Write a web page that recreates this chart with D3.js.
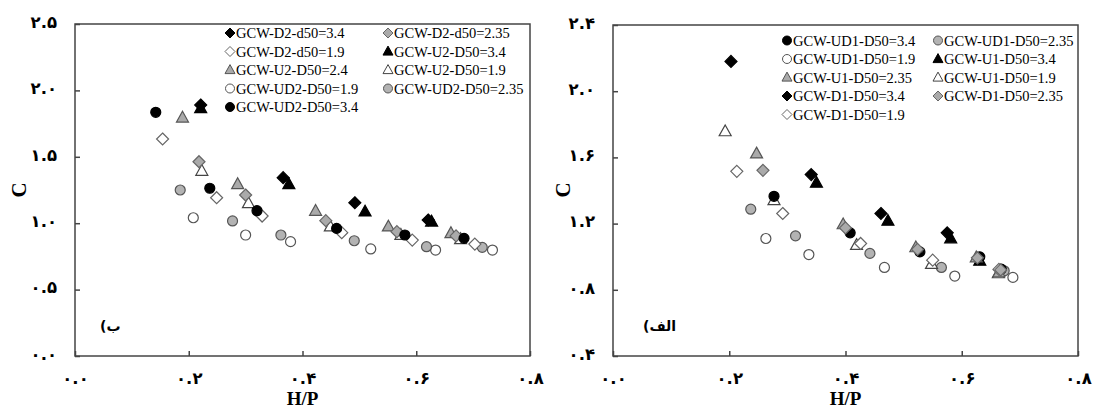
<!DOCTYPE html>
<html>
<head>
<meta charset="utf-8">
<script src="https://cdn.jsdelivr.net/npm/d3@7"></script>
<style>
  body { margin: 0; background: #fff; }
  .tick text { font-family: "DejaVu Sans", sans-serif; font-weight: bold; font-size: 16.5px; fill: #000; }
  .legend text { font-family: "Liberation Serif", "Times New Roman", serif; font-size: 14.5px; fill: #000; }
  .title { font-family: "Liberation Serif", "Times New Roman", serif; font-weight: bold; fill: #000; }
</style>
</head>
<body>
<div id="container-1"></div>
<script>
// ---- data, panel (b) left ----
const bNames = ["GCW-D2-d50=3.4", "GCW-D2-d50=2.35", "GCW-D2-d50=1.9", "GCW-U2-D50=3.4", "GCW-U2-D50=2.4",
  "GCW-U2-D50=1.9", "GCW-UD2-D50=1.9", "GCW-UD2-D50=2.35", "GCW-UD2-D50=3.4"];
const b_D2_34 = [[0.221, 1.89], [0.366, 1.343], [0.492, 1.154], [0.621, 1.024]];
const b_D2_235 = [[0.218, 1.463], [0.300, 1.212], [0.441, 1.019], [0.566, 0.936], [0.670, 0.904]];
const b_D2_19 = [[0.154, 1.634], [0.249, 1.192], [0.329, 1.054], [0.469, 0.929], [0.593, 0.873], [0.703, 0.843]];
const b_U2_34 = [[0.221, 1.865], [0.376, 1.293], [0.510, 1.087], [0.627, 1.011]];
const b_U2_24 = [[0.189, 1.794], [0.286, 1.293], [0.423, 1.092], [0.551, 0.974], [0.661, 0.924]];
const b_U2_19 = [[0.223, 1.393], [0.305, 1.150], [0.449, 0.974], [0.573, 0.911], [0.678, 0.879]];
const b_UD2_19 = [[0.208, 1.041], [0.300, 0.911], [0.379, 0.861], [0.520, 0.806], [0.634, 0.798], [0.734, 0.798]];
const b_UD2_235 = [[0.185, 1.250], [0.277, 1.017], [0.362, 0.911], [0.491, 0.868], [0.618, 0.823], [0.716, 0.818]];
const b_UD2_34 = [[0.142, 1.835], [0.237, 1.263], [0.320, 1.094], [0.460, 0.961], [0.580, 0.911], [0.684, 0.886]];
const bXTicks = [0, 0.2, 0.4, 0.6, 0.8];
const bYTicks = [0, 0.5, 1.0, 1.5, 2.0, 2.5];

// ---- data, panel (alef) right ----
const aNames = ["GCW-UD1-D50=3.4", "GCW-UD1-D50=2.35", "GCW-UD1-D50=1.9", "GCW-U1-D50=3.4", "GCW-U1-D50=2.35",
  "GCW-U1-D50=1.9", "GCW-D1-D50=3.4", "GCW-D1-D50=2.35", "GCW-D1-D50=1.9"];
const a_UD1_34 = [[0.277, 1.365], [0.408, 1.144], [0.528, 1.029], [0.631, 0.999], [0.668, 0.925]];
const a_UD1_235 = [[0.237, 1.287], [0.314, 1.126], [0.442, 1.020], [0.565, 0.935], [0.673, 0.915]];
const a_UD1_19 = [[0.263, 1.110], [0.337, 1.013], [0.467, 0.935], [0.588, 0.883], [0.688, 0.875]];
const a_U1_34 = [[0.350, 1.446], [0.473, 1.216], [0.581, 1.110], [0.631, 0.975]];
const a_U1_235 = [[0.247, 1.623], [0.396, 1.195], [0.521, 1.056], [0.625, 0.995], [0.664, 0.905]];
const a_U1_19 = [[0.193, 1.757], [0.277, 1.341], [0.419, 1.070], [0.548, 0.955], [0.663, 0.899]];
const a_D1_34 = [[0.203, 2.180], [0.341, 1.496], [0.461, 1.261], [0.575, 1.144]];
const a_D1_235 = [[0.258, 1.522], [0.400, 1.174], [0.524, 1.044], [0.627, 0.993], [0.667, 0.920]];
const a_D1_19 = [[0.213, 1.516], [0.292, 1.261], [0.426, 1.080], [0.550, 0.979], [0.664, 0.923]];
const aXTicks = [0, 0.2, 0.4, 0.6, 0.8];
const aYTicks = [0.4, 0.8, 1.2, 1.6, 2.0, 2.4];

// marker styles, keyed by shape + fill
const styles = {
  blackDiamond: { shape: "diamond", fill: "#000", stroke: "#000" },
  grayDiamond: { shape: "diamond", fill: "#aaa", stroke: "#666" },
  openDiamond: { shape: "diamond", fill: "#fff", stroke: "#666" },
  blackTri: { shape: "triangle", fill: "#000", stroke: "#000" },
  grayTri: { shape: "triangle", fill: "#aaa", stroke: "#555" },
  openTri: { shape: "triangle", fill: "#fff", stroke: "#444" },
  blackCircle: { shape: "circle", fill: "#000", stroke: "#000" },
  grayCircle: { shape: "circle", fill: "#b3b3b3", stroke: "#555" },
  openCircle: { shape: "circle", fill: "#fff", stroke: "#555" }
};

const persianDigits = "۰۱۲۳۴۵۶۷۸۹";
function fa(v) {
  return v.toFixed(1).replace(/\d/g, d => persianDigits[d]);
}

// shape path, s = half size in px
function markerPath(shape, s) {
  if (shape === "diamond") {
    return `M0,${-s}L${s},0L0,${s}L${-s},0Z`;
  }
  if (shape === "triangle") {
    const h = s * 1.8;
    return `M0,${-h * 0.6}L${s},${h * 0.4}L${-s},${h * 0.4}Z`;
  }
  return d3.arc()({ innerRadius: 0, outerRadius: s, startAngle: 0, endAngle: 2 * Math.PI });
}

const width = 1094, height = 414;
const svg = d3.select("#container-1").append("svg")
  .attr("width", width).attr("height", height)
  .style("display", "block");
svg.append("rect").attr("width", width).attr("height", height).attr("fill", "#fff");

function drawPanel(cfg) {
  const x = d3.scaleLinear().domain([0, 0.8]).range([cfg.left, cfg.right]);
  const y = d3.scaleLinear().domain(cfg.yDomain).range([cfg.bottom, cfg.top]);
  const g = svg.append("g");

  // axes with inside ticks, labels far out
  const xAxis = d3.axisBottom(x).tickValues(cfg.xTicks).tickSizeInner(-5).tickSizeOuter(0)
    .tickPadding(16).tickFormat(fa);
  const yAxis = d3.axisLeft(y).tickValues(cfg.yTicks).tickSizeInner(-5).tickSizeOuter(0)
    .tickPadding(18).tickFormat(fa);

  const gx = g.append("g").attr("transform", `translate(0,${cfg.bottom})`).call(xAxis);
  const gy = g.append("g").attr("transform", `translate(${cfg.left},0)`).call(yAxis);
  [gx, gy].forEach(a => {
    a.select(".domain").remove();
    a.selectAll(".tick line").attr("stroke", "#444").attr("stroke-width", 1.5);
  });
  gy.selectAll(".tick text").attr("dy", "0.2em");

  // frame
  g.append("rect")
    .attr("x", cfg.left).attr("y", cfg.top)
    .attr("width", cfg.right - cfg.left).attr("height", cfg.bottom - cfg.top)
    .attr("fill", "none").attr("stroke", "#444").attr("stroke-width", 1.5);

  // points, drawn in the given order
  cfg.drawOrder.forEach(i => {
    const st = styles[cfg.styleKeys[i]];
    g.append("g").selectAll("path")
      .data(cfg.series[i])
      .join("path")
        .attr("d", markerPath(st.shape, st.shape === "circle" ? 5 : 6))
        .attr("transform", d => `translate(${x(d[0])},${y(d[1])})`)
        .attr("fill", st.fill)
        .attr("stroke", st.stroke)
        .attr("stroke-width", 1.2);
  });

  // legend, 2 columns row-major
  const lg = g.append("g").attr("class", "legend");
  cfg.names.forEach((name, i) => {
    const col = i % 2, row = Math.floor(i / 2);
    const lx = cfg.legendX[col], ly = cfg.legendY + row * 18.5;
    const st = styles[cfg.styleKeys[i]];
    lg.append("path")
      .attr("d", markerPath(st.shape, st.shape === "circle" ? 4.5 : 5))
      .attr("transform", `translate(${lx},${ly})`)
      .attr("fill", st.fill).attr("stroke", st.stroke).attr("stroke-width", 1);
    lg.append("text")
      .attr("x", lx + 6).attr("y", ly)
      .attr("dy", "0.35em")
      .text(name);
  });

  // axis titles
  g.append("text").attr("class", "title")
    .attr("x", x(0.4)).attr("y", 405)
    .attr("text-anchor", "middle").attr("font-size", 19)
    .text("H/P");
  g.append("text").attr("class", "title")
    .attr("transform", `translate(${cfg.cX},190) rotate(-90)`)
    .attr("text-anchor", "middle").attr("dy", "0.35em").attr("font-size", 21)
    .text("C");

  // panel tag
  g.append("text")
    .attr("x", cfg.tagX).attr("y", cfg.tagY)
    .attr("font-family", "DejaVu Sans, sans-serif").attr("font-weight", "bold").attr("font-size", 14)
    .text(cfg.tag);
}

drawPanel({
  left: 75, right: 530, top: 24, bottom: 356,
  yDomain: [0, 2.5], xTicks: bXTicks, yTicks: bYTicks,
  names: bNames,
  series: [b_D2_34, b_D2_235, b_D2_19, b_U2_34, b_U2_24, b_U2_19, b_UD2_19, b_UD2_235, b_UD2_34],
  styleKeys: ["blackDiamond", "grayDiamond", "openDiamond", "blackTri", "grayTri", "openTri",
    "openCircle", "grayCircle", "blackCircle"],
  drawOrder: [6, 7, 4, 5, 3, 1, 2, 8, 0],
  legendX: [230, 388], legendY: 33,
  cX: 19, tag: "(ب", tagX: 100, tagY: 331
});

drawPanel({
  left: 613, right: 1078, top: 25, bottom: 356,
  yDomain: [0.4, 2.4], xTicks: aXTicks, yTicks: aYTicks,
  names: aNames,
  series: [a_UD1_34, a_UD1_235, a_UD1_19, a_U1_34, a_U1_235, a_U1_19, a_D1_34, a_D1_235, a_D1_19],
  styleKeys: ["blackCircle", "grayCircle", "openCircle", "blackTri", "grayTri", "openTri",
    "blackDiamond", "grayDiamond", "openDiamond"],
  drawOrder: [2, 1, 5, 0, 3, 4, 8, 7, 6],
  legendX: [787, 938], legendY: 40.5,
  cX: 563, tag: "(الف", tagX: 643, tagY: 331
});
</script>
</body>
</html>
